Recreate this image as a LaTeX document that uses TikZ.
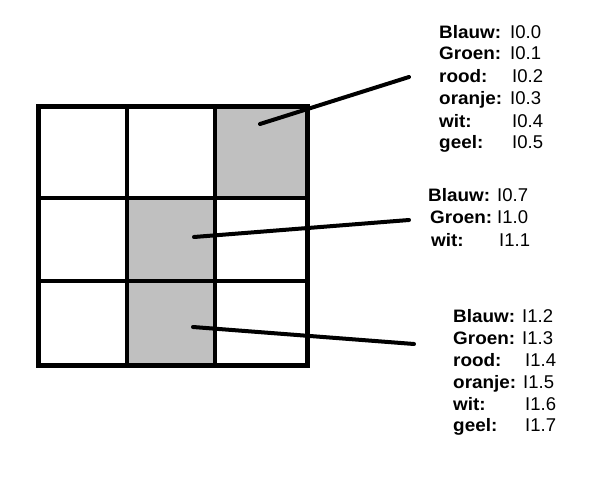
\documentclass[tikz,border=0pt]{standalone}
\usepackage{fontspec}
\setmainfont{Liberation Sans}
\newfontfamily\lblfont[FakeStretch=1.05]{Liberation Sans}
\begin{document}
\begin{tikzpicture}[x=1pt,y=-1pt,
  gridline/.style={line width=3.5pt},
  frameline/.style={line width=5pt},
  leader/.style={line width=4pt, line cap=round},
  lbl/.style={anchor=base west, inner sep=0pt, font=\lblfont\fontsize{18}{20}\selectfont\bfseries},
  val/.style={anchor=base west, inner sep=0pt, font=\fontsize{18.5}{20}\selectfont}]
\definecolor{cellgray}{RGB}{192,192,192}
\useasboundingbox (0,0) rectangle (592,482);
\fill[white] (0,0) rectangle (592,482);
% gray cells
\fill[cellgray] (215,106) rectangle (307,198);
\fill[cellgray] (127,198) rectangle (215,365);
% grid
\draw[gridline] (127,106) -- (127,365);
\draw[gridline] (215,106) -- (215,365);
\draw[gridline] (38,198) -- (307,198);
\draw[gridline] (38,281) -- (307,281);
\draw[frameline] (38,106) rectangle (307,365);
% leader end points
\coordinate (c1) at (260,124);
\coordinate (e1) at (409,77);
\coordinate (c2) at (194,237);
\coordinate (e2) at (409,220);
\coordinate (c3) at (193,327);
\coordinate (e3) at (414,344);
\draw[leader] (c1) -- (e1);
\draw[leader] (c2) -- (e2);
\draw[leader] (c3) -- (e3);
% group 1
\node[lbl] (l11) at (439,38) {Blauw:};
\node[lbl] (l12) at (439,59) {Groen:};
\node[lbl] (l13) at (439,82) {rood:};
\node[lbl] (l14) at (439,104) {oranje:};
\node[lbl] (l15) at (439,127) {wit:};
\node[lbl] (l16) at (439,148) {geel:};
\node[val] (v11) at (510,38) {I0.0};
\node[val] (v12) at (510,59) {I0.1};
\node[val] (v13) at (512,82) {I0.2};
\node[val] (v14) at (510,104) {I0.3};
\node[val] (v15) at (512,127) {I0.4};
\node[val] (v16) at (512,148) {I0.5};
% group 2
\node[lbl] (l21) at (428,201) {Blauw:};
\node[lbl] (l22) at (430,223) {Groen:};
\node[lbl] (l23) at (431,246) {wit:};
\node[val] (v21) at (497,201) {I0.7};
\node[val] (v22) at (497,223) {I1.0};
\node[val] (v23) at (499,246) {I1.1};
% group 3
\node[lbl] (l31) at (453,322) {Blauw:};
\node[lbl] (l32) at (453,344) {Groen:};
\node[lbl] (l33) at (453,366) {rood:};
\node[lbl] (l34) at (453,388) {oranje:};
\node[lbl] (l35) at (453,410) {wit:};
\node[lbl] (l36) at (453,431) {geel:};
\node[val] (v31) at (522,322) {I1.2};
\node[val] (v32) at (522,344) {I1.3};
\node[val] (v33) at (525,366) {I1.4};
\node[val] (v34) at (523,388) {I1.5};
\node[val] (v35) at (525,410) {I1.6};
\node[val] (v36) at (525,431) {I1.7};
\end{tikzpicture}
\end{document}
